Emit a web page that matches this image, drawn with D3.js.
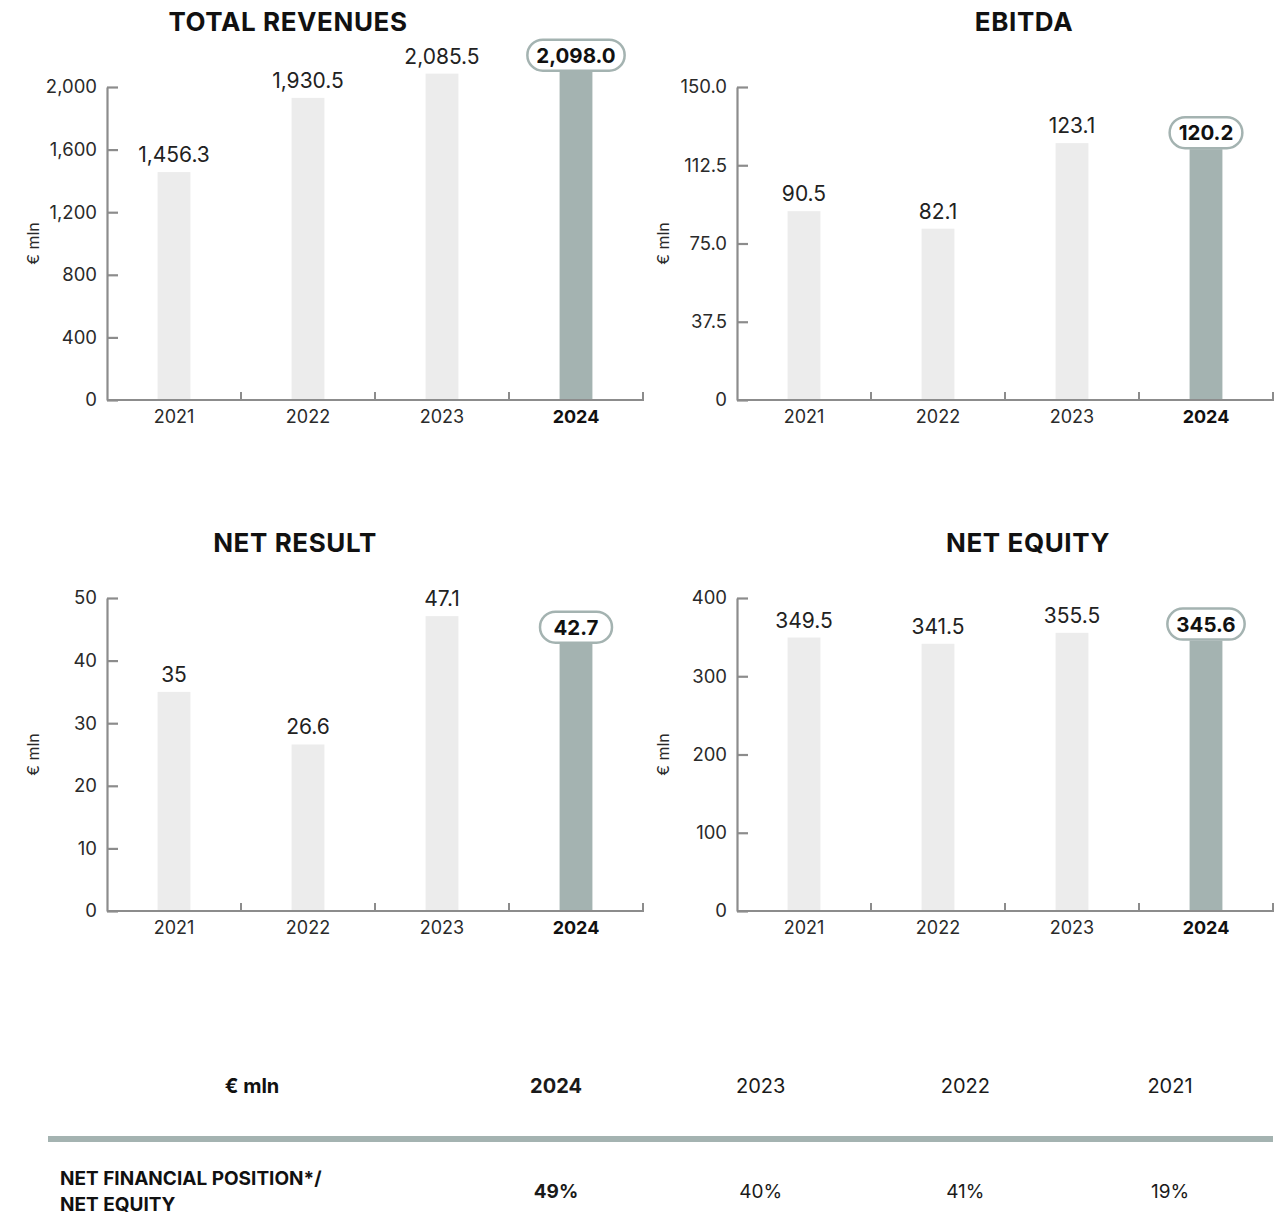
<!DOCTYPE html>
<html><head><meta charset="utf-8">
<script src="https://cdn.jsdelivr.net/npm/d3@7"></script>
<style>
html,body{margin:0;padding:0;background:#fff;}
svg text{font-family:Inter,"Open Sans",sans-serif;}
</style></head>
<body>
<svg id="c" width="1284" height="1216"></svg>
<script>
const years = ["2021", "2022", "2023", "2024"];
const revenues = [1456.3, 1930.5, 2085.5, 2098.0];
const ebitda = [90.5, 82.1, 123.1, 120.2];
const netResult = [35, 26.6, 47.1, 42.7];
const netEquity = [349.5, 341.5, 355.5, 345.6];
const revenueTicks = [0, 400, 800, 1200, 1600, 2000];
const ebitdaTicks = [0, 37.5, 75, 112.5, 150];
const netResultTicks = [0, 10, 20, 30, 40, 50];
const netEquityTicks = [0, 100, 200, 300, 400];
const titles = ["TOTAL REVENUES", "EBITDA", "NET RESULT", "NET EQUITY"];
const highlightYear = "2024";
const unitLabel = "€ mln";
const tableYears = ["2024", "2023", "2022", "2021"];
const tableRowLabel = ["NET FINANCIAL POSITION*/", "NET EQUITY"];
const nfpRatio = ["49%", "40%", "41%", "19%"];

const svg = d3.select("#c");
const AXIS = "#8c8c8c", LIGHT = "#ececec", HI = "#a4b3b1";

function chart(cfg) {
  const {left, top, bottom, width, title, values, ticks, tickFmt, valFmt} = cfg;
  const g = svg.append("g");
  const x = d3.scaleBand().domain(years).range([left, left + width]).padding(0);
  const y = d3.scaleLinear().domain([0, d3.max(ticks)]).range([bottom, top]);
  const bw = x.bandwidth() * 0.245;

  g.append("text").attr("x", cfg.titleX).attr("y", cfg.titleY)
    .attr("text-anchor", "middle").attr("font-size", 26).attr("font-weight", 700)
    .attr("letter-spacing", 0.6).attr("fill", "#111").text(title);

  g.selectAll("rect.bar").data(values).join("rect").attr("class", "bar")
    .attr("x", (d, i) => x(years[i]) + x.bandwidth() / 2 - bw / 2)
    .attr("width", bw)
    .attr("y", d => y(d)).attr("height", d => bottom - y(d))
    .attr("fill", (d, i) => years[i] === highlightYear ? HI : LIGHT);

  const ya = g.append("g").attr("transform", `translate(${left},0)`)
    .call(d3.axisLeft(y).tickValues(ticks).tickFormat(tickFmt).tickSize(-11).tickSizeOuter(0).tickPadding(10));
  ya.select(".domain").attr("stroke", AXIS).attr("stroke-width", 2.2);
  ya.selectAll(".tick line").attr("stroke", AXIS).attr("stroke-width", 2.2);
  ya.selectAll(".tick text").attr("font-size", 18.5).attr("fill", "#2a2a2a")
    .style("font-family", "Inter, sans-serif");

  const xa = g.append("g").attr("transform", `translate(0,${bottom})`);
  xa.append("line").attr("x1", left).attr("x2", left + width).attr("stroke", AXIS).attr("stroke-width", 2.2);
  xa.selectAll("line.bt").data(years).join("line").attr("class", "bt")
    .attr("x1", d => x(d) + x.bandwidth()).attr("x2", d => x(d) + x.bandwidth())
    .attr("y1", 1).attr("y2", -8).attr("stroke", AXIS).attr("stroke-width", 2);
  xa.selectAll("text").data(years).join("text")
    .attr("x", d => x(d) + x.bandwidth() / 2).attr("y", 23)
    .attr("text-anchor", "middle").attr("font-size", 18)
    .attr("font-weight", d => d === highlightYear ? 700 : 400)
    .attr("fill", d => d === highlightYear ? "#111" : "#2a2a2a").text(d => d);

  g.append("text").attr("transform", `translate(${left - 68},${(top + bottom) / 2}) rotate(-90)`)
    .attr("text-anchor", "middle").attr("font-size", 16).attr("fill", "#2a2a2a").text(unitLabel);

  values.forEach((v, i) => {
    const cx = x(years[i]) + x.bandwidth() / 2;
    if (years[i] === highlightYear) {
      const t = g.append("text").attr("x", cx).attr("y", y(v) - 9)
        .attr("text-anchor", "middle").attr("font-size", 20.5).attr("font-weight", 700)
        .attr("fill", "#111").text(valFmt(v));
      const w = Math.max(t.node().getComputedTextLength() + 18, 72);
      g.append("rect").attr("x", cx - w / 2).attr("y", y(v) - 32)
        .attr("width", w).attr("height", 31).attr("rx", 15.5)
        .attr("fill", "#fff").attr("stroke", HI).attr("stroke-width", 2.5);
      t.raise();
    } else {
      g.append("text").attr("x", cx).attr("y", y(v) - 10)
        .attr("text-anchor", "middle").attr("font-size", 21).attr("fill", "#222").text(valFmt(v));
    }
  });
}

const zeroOr = f => d => d === 0 ? "0" : f(d);
chart({left: 107, top: 87, bottom: 400, width: 536, titleX: 288, titleY: 31, title: titles[0], values: revenues,
  ticks: revenueTicks, tickFmt: d3.format(","), valFmt: d3.format(",.1f")});
chart({left: 737, top: 87, bottom: 400, width: 536, titleX: 1024, titleY: 31, title: titles[1], values: ebitda,
  ticks: ebitdaTicks, tickFmt: zeroOr(d3.format(".1f")), valFmt: d3.format(".1f")});
chart({left: 107, top: 598, bottom: 911, width: 536, titleX: 295, titleY: 552, title: titles[2], values: netResult,
  ticks: netResultTicks, tickFmt: d3.format("d"), valFmt: d => String(d)});
chart({left: 737, top: 598, bottom: 911, width: 536, titleX: 1028, titleY: 552, title: titles[3], values: netEquity,
  ticks: netEquityTicks, tickFmt: d3.format("d"), valFmt: d3.format(".1f")});

const colX = d3.scalePoint().domain(tableYears).range([556, 1170]);
const tg = svg.append("g");
tg.append("text").attr("x", 252).attr("y", 1093).attr("text-anchor", "middle")
  .attr("font-size", 20).attr("font-weight", 700).attr("fill", "#111").text(unitLabel);
tg.selectAll("text.hy").data(tableYears).join("text").attr("class", "hy")
  .attr("x", d => colX(d)).attr("y", 1093).attr("text-anchor", "middle").attr("font-size", 20)
  .attr("font-weight", (d, i) => i === 0 ? 700 : 400).attr("fill", "#1a1a1a").text(d => d);
tg.append("rect").attr("x", 48).attr("y", 1136).attr("width", 1225).attr("height", 6).attr("fill", HI);
tg.append("text").attr("x", 60).attr("font-size", 19).attr("font-weight", 700).attr("fill", "#111")
  .selectAll("tspan").data(tableRowLabel).join("tspan").attr("x", 60)
  .attr("y", (d, i) => 1185 + i * 26).text(d => d);
tg.selectAll("text.v").data(nfpRatio).join("text").attr("class", "v")
  .attr("x", (d, i) => colX(tableYears[i])).attr("y", 1198).attr("text-anchor", "middle")
  .attr("font-size", 19).attr("font-weight", (d, i) => i === 0 ? 700 : 400).attr("fill", "#1a1a1a").text(d => d);
</script>
</body></html>
